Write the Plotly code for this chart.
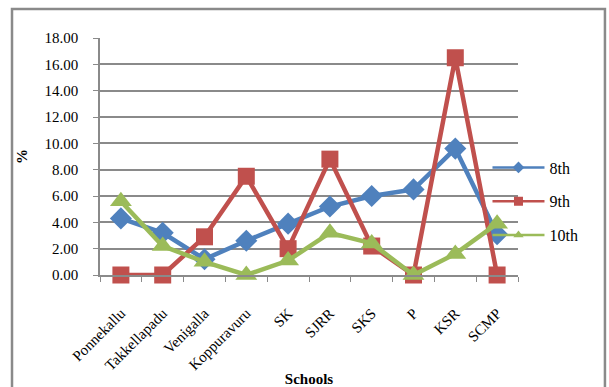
import plotly.graph_objects as go

schools = ["Ponnekallu", "Takkellapadu", "Venigalla", "Koppuravuru", "SK",
           "SJRR", "SKS", "P", "KSR", "SCMP"]
grade8 = [4.3, 3.2, 1.2, 2.6, 3.9, 5.2, 6.0, 6.5, 9.6, 3.1]
grade9 = [0.0, 0.0, 2.9, 7.5, 2.0, 8.8, 2.2, 0.0, 16.5, 0.0]
grade10 = [5.6, 2.2, 1.0, 0.0, 1.1, 3.2, 2.4, 0.0, 1.6, 3.9]
y_ticks = [0, 2, 4, 6, 8, 10, 12, 14, 16, 18]

series = [
    ("8th", grade8, "#4F81BD", "diamond", 17),
    ("9th", grade9, "#C0504D", "square", 17),
    ("10th", grade10, "#9BBB59", "triangle-up", 19),
]

FONT = "Liberation Serif"
GRID = "#8a8a8a"

fig = go.Figure()
for name, vals, color, symbol, size in series:
    fig.add_trace(go.Scatter(
        x=schools, y=vals, mode="lines+markers", name=name,
        line=dict(color=color, width=4.5),
        marker=dict(symbol=symbol, size=size, color=color),
        showlegend=False, cliponaxis=False,
    ))
# slimmer legend glyphs
for name, vals, color, symbol, size in series:
    fig.add_trace(go.Scatter(
        x=[None], y=[None], mode="lines+markers", name=name,
        line=dict(color=color, width=2.5),
        marker=dict(symbol=symbol, size=9, color=color),
        legendgroup=name, showlegend=True,
    ))

fig.update_layout(
    width=609, height=387,
    margin=dict(l=100, r=91, t=38, b=112, autoexpand=False),
    paper_bgcolor="white", plot_bgcolor="white",
    font=dict(family=FONT, size=15, color="black"),
    legend=dict(x=0.927, xanchor="left", y=0.31, yanchor="middle",
                bgcolor="rgba(0,0,0,0)", traceorder="grouped",
                itemwidth=52, tracegroupgap=10,
                font=dict(size=16, family=FONT)),
    xaxis=dict(
        type="category", showgrid=False, showline=True, linecolor=GRID,
        linewidth=1.5, ticks="outside", tickson="boundaries", ticklen=5,
        tickcolor=GRID, tickangle=-45, ticklabelstandoff=22,
        tickfont=dict(size=15), automargin=False,
        title=dict(text="<b>Schools</b>", font=dict(size=15), standoff=4),
        range=[-0.5, 9.5],
    ),
    yaxis=dict(
        range=[0, 18], tickvals=y_ticks,
        ticktext=[f"{v:.2f}" for v in y_ticks],
        showgrid=True, gridcolor=GRID, gridwidth=1.5,
        showline=True, linecolor=GRID, linewidth=1.5,
        ticks="outside", ticklen=5, tickcolor=GRID, ticklabelstandoff=12,
        zeroline=False, tickfont=dict(size=15), automargin=False,
        title=dict(text="<b>%</b>", font=dict(size=15), standoff=13),
    ),
    shapes=[dict(type="rect", xref="paper", yref="paper",
                 x0=-0.2105, x1=1.208, y0=-0.52, y1=1.122,
                 line=dict(color="#8a8a8a", width=2.5), layer="below")],
)

fig.write_html("out.html")
